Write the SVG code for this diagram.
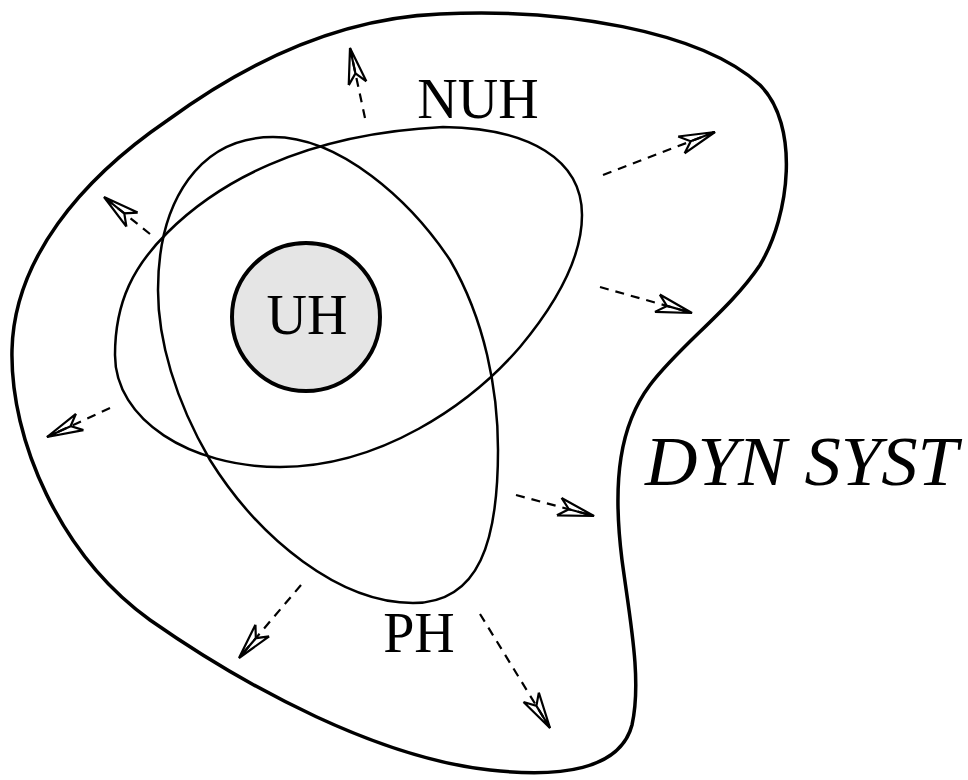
<svg xmlns="http://www.w3.org/2000/svg" width="968" height="780" viewBox="0 0 968 780">
<style>
.lbl{font-family:"Liberation Serif","Times New Roman",serif;font-size:56px;fill:#000;text-anchor:middle}
.cal{font-family:"Liberation Serif","Times New Roman",serif;font-style:italic;font-size:70px;fill:#000}
.set{fill:none;stroke:#000;stroke-width:2.5}
.arr{fill:none;stroke:#000;stroke-width:2.2;stroke-dasharray:9 7;marker-end:url(#ah)}
</style>
<defs>
<marker id="ah" markerUnits="userSpaceOnUse" orient="auto" markerWidth="60" markerHeight="40" refX="0" refY="0" overflow="visible">
<path d="M -36,-9 L 0,0 L -36,9 M -36,-9 L -26,0 L -36,9 M -26,0 L 0,0" fill="none" stroke="#000" stroke-width="2.2" stroke-linejoin="miter"/>
</marker>
</defs>
<g id="dynsyst">
<path d="M 440,14 C 560,8 700,30 760,85 C 800,125 790,215 760,265 C 730,310 680,345 650,385 C 620,425 612,480 622,560 C 630,620 642,680 632,725 C 620,770 560,778 490,770 C 380,758 250,690 150,620 C 60,555 10,440 12,350 C 14,260 80,180 168,120 C 250,60 340,18 440,14 Z" fill="none" stroke="#000" stroke-width="3.5"/>
<text class="cal" x="645" y="485" textLength="313" lengthAdjust="spacingAndGlyphs">DYN SYST</text>
</g>
<g id="nuh">
<path class="set" d="M 443,127 C 530,128 582,160 582,215 C 582,260 555,305 520,347 C 470,405 380,467 280,467 C 190,467 115,420 115,355 C 115,300 135,265 167,233 C 215,185 300,134 443,127 Z"/>
<text class="lbl" x="478" y="118">NUH</text>
</g>
<g id="ph">
<path class="set" d="M 273,137 C 340,137 410,200 450,260 C 485,320 498,390 498,450 C 498,540 480,603 413,603 C 340,603 260,540 210,460 C 175,400 158,340 158,290 C 158,200 200,137 273,137 Z"/>
<text class="lbl" x="419" y="652">PH</text>
</g>
<g id="uh">
<circle cx="306" cy="317" r="74" fill="#e5e5e5" stroke="#000" stroke-width="4"/>
<text class="lbl" x="307" y="334">UH</text>
</g>
<g id="connectors">
<path class="arr" d="M 365,118 L 350,48"/>
<path class="arr" d="M 603,175 L 715,132"/>
<path class="arr" d="M 600,287 L 692,313"/>
<path class="arr" d="M 150,234 L 104,197"/>
<path class="arr" d="M 110,408 L 47,437"/>
<path class="arr" d="M 516,495 L 594,516"/>
<path class="arr" d="M 301,585 L 239,658"/>
<path class="arr" d="M 480,614 L 550,728"/>
</g>
</svg>
